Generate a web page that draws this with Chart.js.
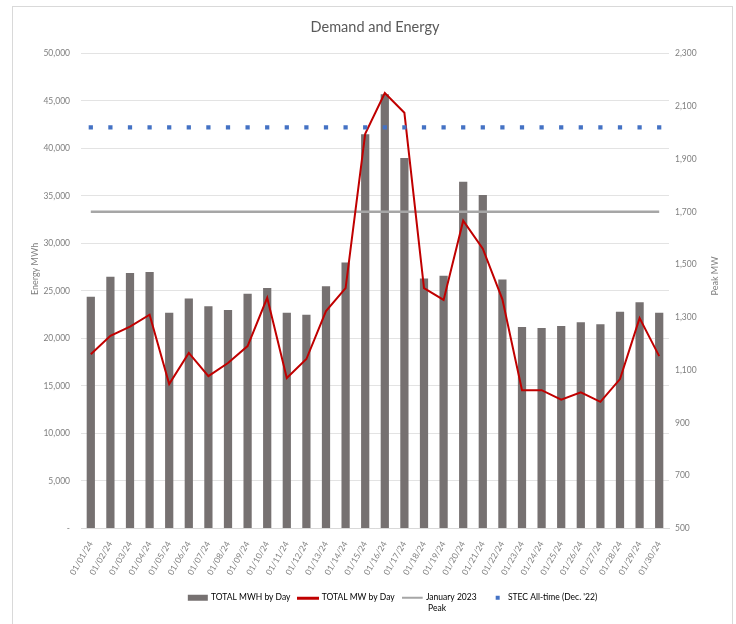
<!DOCTYPE html>
<html>
<head>
<meta charset="utf-8">
<script src="https://cdn.jsdelivr.net/npm/chart.js@4.4.1/dist/chart.umd.min.js"></script>
<style>
  body { margin: 0; background: #fff; }
  #wrap { position: relative; width: 736px; height: 624px; }
  #frame { position: absolute; left: 12px; top: 6px; width: 719px; height: 640px; border: 1px solid #d9d9d9; pointer-events: none; }
</style>
</head>
<body>
<div id="wrap">
  <canvas id="myChart" width="736" height="624"></canvas>
  <div id="frame"></div>
</div>
<script>
"use strict"

const days = ['01/01/24', '01/02/24', '01/03/24', '01/04/24', '01/05/24', '01/06/24', '01/07/24', '01/08/24', '01/09/24', '01/10/24',
  '01/11/24', '01/12/24', '01/13/24', '01/14/24', '01/15/24', '01/16/24', '01/17/24', '01/18/24', '01/19/24', '01/20/24',
  '01/21/24', '01/22/24', '01/23/24', '01/24/24', '01/25/24', '01/26/24', '01/27/24', '01/28/24', '01/29/24', '01/30/24']

// daily energy, left axis
const total_mwh = [24400, 26500, 26900, 27000, 22700, 24200, 23400, 23000, 24700, 25300,
  22700, 22500, 25500, 28000, 41500, 45700, 39000, 26300, 26600, 36500,
  35100, 26200, 21200, 21100, 21300, 21700, 21500, 22800, 23800, 22700]

// daily peak, right axis
const total_mw = [1160, 1230, 1265, 1310, 1047, 1165, 1077, 1127, 1191, 1374,
  1070, 1142, 1324, 1411, 1995, 2150, 2075, 1411, 1366, 1666,
  1560, 1368, 1024, 1024, 988, 1016, 980, 1066, 1297, 1153]

const jan_2023_peak = [1700, 1700, 1700, 1700, 1700, 1700, 1700, 1700, 1700, 1700,
  1700, 1700, 1700, 1700, 1700, 1700, 1700, 1700, 1700, 1700,
  1700, 1700, 1700, 1700, 1700, 1700, 1700, 1700, 1700, 1700]

const stec_all_time = [2020, 2020, 2020, 2020, 2020, 2020, 2020, 2020, 2020, 2020,
  2020, 2020, 2020, 2020, 2020, 2020, 2020, 2020, 2020, 2020,
  2020, 2020, 2020, 2020, 2020, 2020, 2020, 2020, 2020, 2020]

const mwh_ticks = { min: 0, max: 50000, step: 5000 }
const mw_ticks = { min: 500, max: 2300, step: 200 }

const GRAY_BAR = '#767171'
const RED = '#C00000'
const GRAY_LINE = '#A6A6A6'
const BLUE = '#4472C4'
const TEXT = '#7f7f7f'

Chart.defaults.font.family = 'Lato, "Open Sans", sans-serif'
Chart.defaults.color = TEXT

function swatch(draw){
  const c = document.createElement('canvas')
  c.width = 22
  c.height = 10
  draw(c.getContext('2d'))
  return c
}

const sw_bar = swatch(g => { g.fillStyle = GRAY_BAR; g.fillRect(1, 2, 20, 6) })
const sw_red = swatch(g => { g.fillStyle = RED; g.fillRect(0, 4, 22, 3) })
const sw_gray = swatch(g => { g.fillStyle = GRAY_LINE; g.fillRect(0, 4, 21, 2) })
const sw_blue = swatch(g => { g.fillStyle = BLUE; g.fillRect(12, 3, 4, 4) })

// two-line legend label; legend measures item width with toString()
const jan_label = ['January 2023', ' Peak']
jan_label.toString = () => 'January 2023'

// both axis titles read bottom-to-top, like the original
const axisTitles = {
  id: 'axisTitles',
  afterLayout(chart){
    // the original legend sits a bit right of centre
    chart.legend.left += 18
    chart.legend.right += 18
  },
  afterDraw(chart){
    const { ctx, chartArea } = chart
    const mid = (chartArea.top + chartArea.bottom) / 2
    const draw = (text, x, y) => {
      ctx.save()
      ctx.translate(x, y)
      ctx.rotate(-Math.PI / 2)
      ctx.font = '9px ' + Chart.defaults.font.family
      ctx.fillStyle = TEXT
      ctx.textAlign = 'center'
      ctx.textBaseline = 'middle'
      ctx.fillText(text, 0, 0)
      ctx.restore()
    }
    draw('Energy MWh', 35, mid - 22)
    draw('Peak MW', 715, mid - 15)
  }
}

const ctx = document.getElementById('myChart')

let graph = new Chart(ctx, {
  data: {
    labels: days,
    datasets: [
      {
        type: 'bar',
        label: 'TOTAL MWH by Day',
        data: total_mwh,
        backgroundColor: GRAY_BAR,
        barPercentage: 0.42,
        categoryPercentage: 1,
        yAxisID: 'LEFT',
        order: 3
      },
      {
        type: 'line',
        label: 'TOTAL MW by Day',
        data: total_mw,
        borderColor: RED,
        borderWidth: 2,
        pointRadius: 0,
        tension: 0,
        yAxisID: 'RIGHT',
        order: 1
      },
      {
        type: 'line',
        label: 'January 2023 Peak',
        data: jan_2023_peak,
        borderColor: GRAY_LINE,
        borderWidth: 2.5,
        pointRadius: 0,
        yAxisID: 'RIGHT',
        order: 2
      },
      {
        type: 'line',
        label: "STEC All-time (Dec. '22)",
        data: stec_all_time,
        showLine: false,
        pointStyle: 'rect',
        pointRadius: 3,
        pointBorderWidth: 0,
        pointBackgroundColor: BLUE,
        borderColor: BLUE,
        yAxisID: 'RIGHT',
        order: 0
      }
    ]
  },
  options: {
    responsive: false,
    animation: false,
    layout: {
      padding: { left: 14, right: 0, top: 0, bottom: 12 }
    },
    plugins: {
      title: {
        display: true,
        text: 'Demand and Energy',
        color: '#595959',
        font: { size: 14.5, weight: 'normal' },
        padding: { top: 19, bottom: 17 }
      },
      tooltip: { enabled: false },
      legend: {
        position: 'bottom',
        labels: {
          usePointStyle: true,
          pointStyleWidth: 18,
          boxHeight: 10,
          padding: 9,
          color: TEXT,
          font: { size: 8.5 },
          generateLabels: () => [
            { text: 'TOTAL MWH by Day', pointStyle: sw_bar, datasetIndex: 0, lineWidth: 0, fillStyle: 'transparent', strokeStyle: 'transparent' },
            { text: 'TOTAL MW by Day', pointStyle: sw_red, datasetIndex: 1, lineWidth: 0, fillStyle: 'transparent', strokeStyle: 'transparent' },
            { text: jan_label, pointStyle: sw_gray, datasetIndex: 2, lineWidth: 0, fillStyle: 'transparent', strokeStyle: 'transparent' },
            { text: "STEC All-time (Dec. '22)", pointStyle: sw_blue, datasetIndex: 3, lineWidth: 0, fillStyle: 'transparent', strokeStyle: 'transparent' }
          ]
        }
      }
    },
    scales: {
      x: {
        grid: { display: false },
        border: { color: '#d9d9d9' },
        ticks: {
          minRotation: 60,
          maxRotation: 60,
          autoSkip: false,
          font: { size: 8.5 },
          color: TEXT
        },
        afterFit(s){ s.height = 56 }
      },
      LEFT: {
        type: 'linear',
        position: 'left',
        min: mwh_ticks.min,
        max: mwh_ticks.max,
        grid: { color: '#e3e3e3', drawTicks: false },
        border: { display: false },
        ticks: {
          stepSize: mwh_ticks.step,
          padding: 11,
          font: { size: 8.5 },
          callback: v => v === 0 ? '-' : v.toLocaleString('en-US')
        },
        afterFit(s){ s.width = 67 }
      },
      RIGHT: {
        type: 'linear',
        position: 'right',
        min: mw_ticks.min,
        max: mw_ticks.max,
        grid: { display: false, drawTicks: false },
        border: { display: false },
        ticks: {
          stepSize: mw_ticks.step,
          padding: 6,
          font: { size: 8.5 },
          callback: v => v.toLocaleString('en-US')
        },
        afterFit(s){ s.width = 67 }
      }
    }
  },
  plugins: [axisTitles]
})
</script>
</body>
</html>
